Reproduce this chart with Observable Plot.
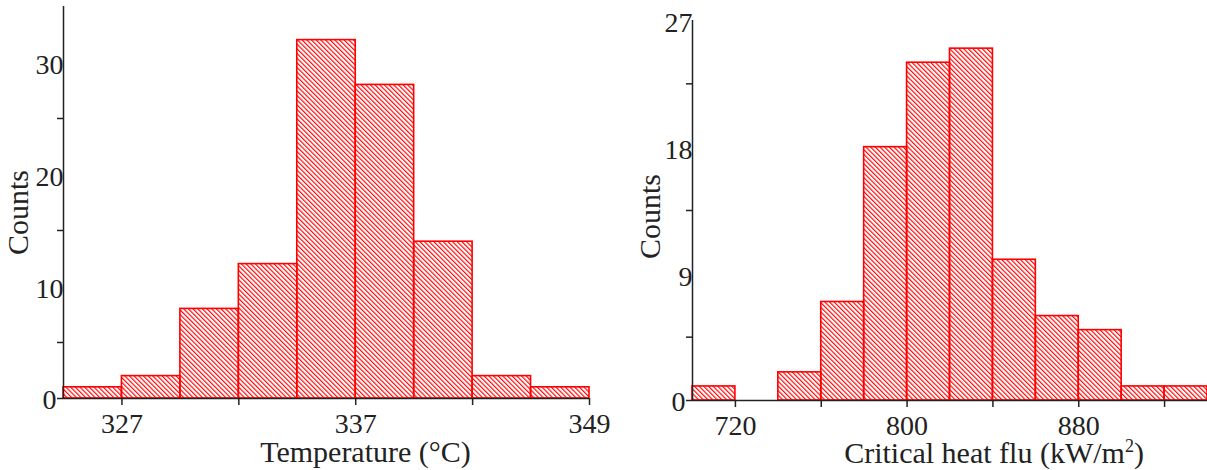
<!DOCTYPE html>
<html>
<head>
<meta charset="utf-8">
<script src="https://cdn.jsdelivr.net/npm/d3@7"></script>
<script src="https://cdn.jsdelivr.net/npm/@observablehq/plot@0.6"></script>
<style>
  body { margin: 0; background: #fff; }
  #wrap { display: flex; width: 1207px; height: 470px; overflow: hidden; background: #fff; }
  #wrap svg { flex: none; }
</style>
</head>
<body>
<div id="wrap"></div>
<script>
// ---- Left histogram: Temperature (°C) ----
const tempEdges = [324.25, 327, 329.75, 332.5, 335.25, 338, 340.75, 343.5, 346.25, 349];
const tempCounts = [1, 2, 8, 12, 32, 28, 14, 2, 1];
const tempTicks = [327, 332.5, 338, 343.5, 349];
const tempTickLabels = ["327", "", "337", "", "349"];
const tempYMajor = [10, 20, 30];
const tempYMinor = [0, 5, 15, 25];
const tempYMax = 35;

// ---- Right histogram: Critical heat flux (kW/m²) ----
const chfEdges = [700, 720, 740, 760, 780, 800, 820, 840, 860, 880, 900, 920, 940];
const chfCounts = [1, 0, 2, 7, 18, 24, 25, 10, 6, 5, 1, 1];
const chfTicks = [720, 760, 800, 840, 880, 920];
const chfTickLabels = ["720", "", "800", "", "880", ""];
const chfYMajor = [9, 18, 27];
const chfYMinor = [0, 4.5, 13.5, 22.5];
const chfYMax = 27;

const FONT = "'Liberation Serif', 'Times New Roman', serif";
const AXIS = "#222";
const RED = "#ff0000";

function bins(edges, counts) {
  return counts.map((c, i) => ({x1: edges[i], x2: edges[i + 1], count: c}));
}

function addHatch(svg, id) {
  const defs = d3.select(svg).insert("defs", ":first-child");
  const p = defs.append("pattern")
    .attr("id", id)
    .attr("patternUnits", "userSpaceOnUse")
    .attr("width", 3.3)
    .attr("height", 10)
    .attr("patternTransform", "rotate(-45)");
  p.append("line")
    .attr("x1", 0.6).attr("y1", 0).attr("x2", 0.6).attr("y2", 10)
    .attr("stroke", RED).attr("stroke-width", 1.15);
}

function superscriptLabel(svg, label) {
  // render the trailing "²" as a real superscript
  d3.select(svg).selectAll("text").filter(function () { return this.textContent === label; })
    .each(function () {
      const t = d3.select(this);
      const parts = label.split("²");
      t.text("");
      t.append("tspan").text(parts[0]);
      t.append("tspan").attr("dy", "-0.62em").attr("font-size", "0.6em").text("2");
      t.append("tspan").attr("dy", "0.37em").text(parts[1]);
    });
}

function histogram(opts) {
  const {edges, counts, ticks, tickLabels, yMajor, yMinor, yMax, xLabel, hatchId,
         width, marginLeft, marginRight, marginTop, marginBottom,
         xLabelDx, xLabelDy, yLabelDx, yLabelDy} = opts;
  const labelMap = new Map(ticks.map((t, i) => [t, tickLabels[i]]));
  const data = bins(edges, counts);
  const svg = Plot.plot({
    width, height: 470, marginLeft, marginRight, marginTop, marginBottom,
    style: {fontFamily: FONT, fontSize: "28px", color: AXIS, background: "white", overflow: "visible"},
    x: {domain: [edges[0], edges[edges.length - 1]]},
    y: {domain: [0, yMax]},
    marks: [
      Plot.rectY(data, {
        filter: d => d.count > 0,
        x1: "x1", x2: "x2", y: "count",
        fill: `url(#${hatchId})`, stroke: RED, strokeWidth: 1.6
      }),
      Plot.ruleY([0], {stroke: AXIS, strokeWidth: 1.5}),
      Plot.ruleX([edges[0]], {y1: 0, y2: yMax, stroke: AXIS, strokeWidth: 1.5}),
      Plot.axisX({ticks, tickFormat: d => labelMap.get(d) ?? "", tickSize: 7, tickPadding: 8,
                  stroke: AXIS, strokeWidth: 1.5, label: null}),
      Plot.axisY({ticks: yMinor, tickFormat: () => "", tickSize: 6, stroke: AXIS, strokeWidth: 1.5, label: null}),
      Plot.axisY({ticks: yMajor, tickSize: 0, tickPadding: 0, dy: 3, label: null}),
      Plot.axisY({ticks: [0], tickSize: 0, tickPadding: 7, dy: 2, label: null}),
      Plot.text([xLabel], {text: d => d, frameAnchor: "bottom", dx: xLabelDx, dy: xLabelDy,
                           textAnchor: "middle", lineAnchor: "middle", fill: AXIS, fontSize: 30}),
      Plot.text(["Counts"], {text: d => d, frameAnchor: "left", rotate: -90, dx: yLabelDx, dy: yLabelDy,
                             textAnchor: "middle", lineAnchor: "middle", fill: AXIS, fontSize: 30})
    ]
  });
  addHatch(svg, hatchId);
  if (xLabel.includes("²")) superscriptLabel(svg, xLabel);
  return svg;
}

const wrap = document.getElementById("wrap");
wrap.append(histogram({
  edges: tempEdges, counts: tempCounts, ticks: tempTicks, tickLabels: tempTickLabels,
  yMajor: tempYMajor, yMinor: tempYMinor, yMax: tempYMax,
  xLabel: "Temperature (°C)", hatchId: "hatchL",
  width: 620, marginLeft: 63, marginRight: 31, marginTop: 6, marginBottom: 72,
  xLabelDx: 39, xLabelDy: 54, yLabelDx: -45, yLabelDy: 10
}));
wrap.append(histogram({
  edges: chfEdges, counts: chfCounts, ticks: chfTicks, tickLabels: chfTickLabels,
  yMajor: chfYMajor, yMinor: chfYMinor, yMax: chfYMax,
  xLabel: "Critical heat flu (kW/m²)", hatchId: "hatchR",
  width: 587, marginLeft: 72, marginRight: 0, marginTop: 20, marginBottom: 70,
  xLabelDx: 44, xLabelDy: 53, yLabelDx: -42, yLabelDy: 6
}));
</script>
</body>
</html>
